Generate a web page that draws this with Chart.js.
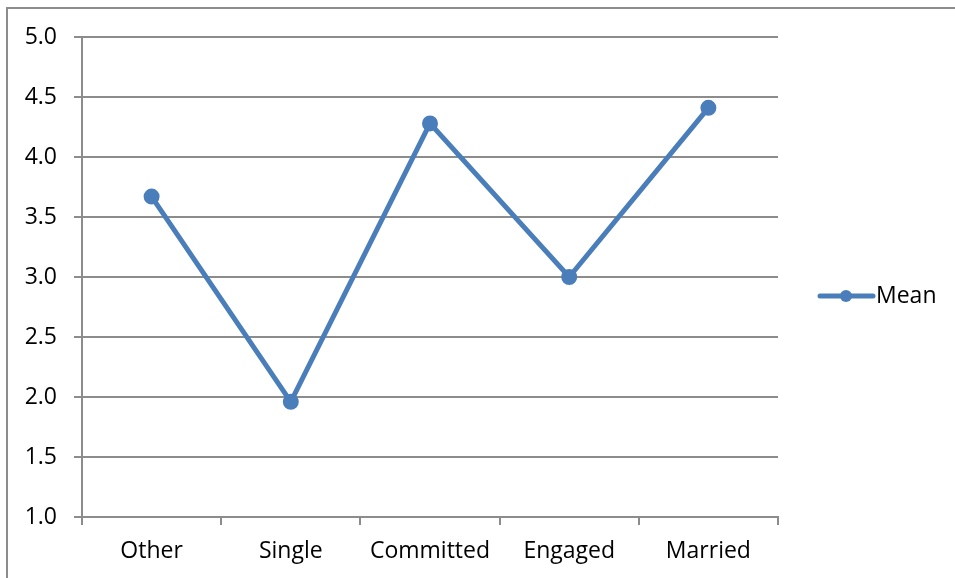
<!DOCTYPE html>
<html>
<head>
<meta charset="utf-8">
<script src="https://cdn.jsdelivr.net/npm/chart.js@4.4.1/dist/chart.umd.min.js"></script>
<style>
  html, body { margin: 0; padding: 0; background: #fff; }
  #wrap { width: 955px; height: 578px; position: relative; }
</style>
</head>
<body>
<div id="wrap"><canvas id="Chart" width="955" height="578"></canvas></div>
<script>
const categories = ["Other", "Single", "Committed", "Engaged", "Married"];
const meanValues = [3.67, 1.96, 4.28, 3.0, 4.41];
const yTicks = [1.0, 1.5, 2.0, 2.5, 3.0, 3.5, 4.0, 4.5, 5.0];

const lineColor = "#4a7ebb";
const axisGrey = "#8c8c8c";
const fontFamily = "'Open Sans', 'Noto Sans', sans-serif";
const fontSize = 23;

// outer frame and the legend on the right
const framePlugin = {
  id: "frame",
  beforeDraw(chart) {
    const ctx = chart.ctx;
    ctx.save();
    ctx.strokeStyle = axisGrey;
    ctx.lineWidth = 2;
    ctx.beginPath();
    ctx.moveTo(7, 578);
    ctx.lineTo(7, 8);
    ctx.lineTo(955, 8);
    ctx.stroke();
    ctx.restore();
  },
  afterDraw(chart) {
    const ctx = chart.ctx;
    const ds = chart.data.datasets[0];
    const y = 296;
    ctx.save();
    ctx.strokeStyle = ds.borderColor;
    ctx.lineWidth = 5;
    ctx.lineCap = "round";
    ctx.beginPath();
    ctx.moveTo(820, y);
    ctx.lineTo(873, y);
    ctx.stroke();
    ctx.fillStyle = ds.pointBackgroundColor;
    ctx.beginPath();
    ctx.arc(846, y, 6, 0, Math.PI * 2);
    ctx.fill();
    ctx.fillStyle = "#000";
    ctx.font = fontSize + "px " + fontFamily;
    ctx.textBaseline = "middle";
    ctx.fillText(ds.label, 876, y);
    ctx.restore();
  }
};

const ctx = document.getElementById("Chart").getContext("2d");
new Chart(ctx, {
  type: "line",
  data: {
    labels: categories,
    datasets: [
      {
        label: "Mean",
        data: meanValues,
        borderColor: lineColor,
        backgroundColor: lineColor,
        pointBackgroundColor: lineColor,
        pointBorderColor: lineColor,
        borderWidth: 5,
        pointRadius: 5.5,
        tension: 0,
      },
    ],
  },
  options: {
    responsive: false,
    animation: false,
    layout: { padding: { left: 0, right: 177, top: 37, bottom: 0 } },
    plugins: {
      legend: { display: false },
      tooltip: { enabled: false },
    },
    scales: {
      x: {
        offset: true,
        grid: {
          offset: true,
          drawOnChartArea: false,
          drawTicks: true,
          tickLength: 8,
          color: axisGrey,
          lineWidth: 2,
        },
        border: { color: axisGrey, width: 2 },
        ticks: {
          color: "#000",
          padding: 13,
          font: { family: fontFamily, size: fontSize },
          maxRotation: 0,
        },
        afterFit: (scale) => { scale.height = 61; },
      },
      y: {
        min: 1,
        max: 5,
        afterBuildTicks: (scale) => {
          scale.ticks = yTicks.map((v) => ({ value: v }));
        },
        grid: {
          color: axisGrey,
          lineWidth: 2,
          tickLength: 8,
        },
        border: { color: axisGrey, width: 2 },
        ticks: {
          color: "#000",
          padding: 17,
          font: { family: fontFamily, size: fontSize },
          callback: (v) => Number(v).toFixed(1),
        },
        afterFit: (scale) => { scale.width = 82; },
      },
    },
  },
  plugins: [framePlugin],
});
</script>
</body>
</html>
